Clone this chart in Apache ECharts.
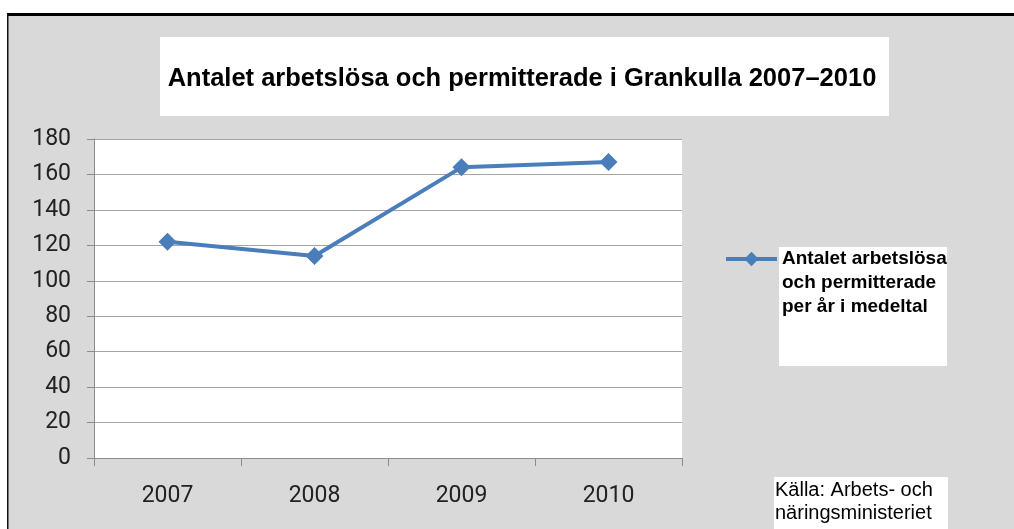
<!DOCTYPE html>
<html>
<head>
<meta charset="utf-8">
<script src="https://cdn.jsdelivr.net/npm/echarts@6/dist/echarts.min.js"></script>
<style>
  html, body { margin: 0; padding: 0; background: #fff; }
  #main { width: 1014px; height: 529px; }
</style>
</head>
<body>
<div id="main"></div>
<script>
// data
var years = ['2007', '2008', '2009', '2010'];
var arbetslosa = [122, 114, 164, 167];
var seriesName = 'Antalet arbetslösa och permitterade per år i medeltal';
var legendLines = ['Antalet arbetslösa', 'och permitterade', 'per år i medeltal'];
var yTicks = { min: 0, max: 180, step: 20 };

var chart = echarts.init(document.getElementById('main'));

var option = {
    animation: false,
    backgroundColor: '#ffffff',
    textStyle: { fontFamily: 'Liberation Sans' },
    graphic: [
        // grey chart area and the frame lines
        { type: 'rect', z: -10, shape: { x: 7, y: 14, width: 1007, height: 515 }, style: { fill: '#d9d9d9' } },
        { type: 'rect', z: -9, shape: { x: 7, y: 13, width: 1007, height: 3 }, style: { fill: '#000' } },
        { type: 'rect', z: -9, shape: { x: 7, y: 13, width: 1.5, height: 516 }, style: { fill: '#111' } },
        // title box
        { type: 'rect', z: -5, shape: { x: 160, y: 37, width: 729, height: 79 }, style: { fill: '#fff' } },
        {
            type: 'text', z: 5, x: 522, y: 79,
            style: {
                text: 'Antalet arbetslösa och permitterade i Grankulla 2007–2010',
                fontFamily: 'Liberation Sans', fontWeight: 'bold', fontSize: 25.5,
                fill: '#000', align: 'center', verticalAlign: 'middle'
            }
        },
        // legend box
        { type: 'rect', z: -5, shape: { x: 779, y: 247, width: 168, height: 119 }, style: { fill: '#fff' } },
        // source box
        { type: 'rect', z: -5, shape: { x: 774, y: 477, width: 174, height: 52 }, style: { fill: '#fff' } },
        {
            type: 'text', z: 5, x: 775, y: 479,
            style: {
                text: 'Källa: Arbets- och\nnäringsministeriet',
                fontFamily: 'Liberation Sans', fontSize: 20, lineHeight: 23,
                fill: '#000', align: 'left', verticalAlign: 'top'
            }
        }
    ],
    grid: {
        left: 94, top: 139, right: 332, bottom: 71,
        show: true, backgroundColor: '#ffffff', borderWidth: 0
    },
    legend: {
        left: 724, top: 199, padding: 0,
        orient: 'vertical',
        selectedMode: false,
        itemWidth: 51, itemHeight: 18,
        data: [seriesName],
        // two blank lines on top so the first text line sits level with the icon
        formatter: function () { return ' \n \n' + legendLines.join('\n'); },
        lineStyle: { width: 4 },
        textStyle: {
            fontFamily: 'Liberation Sans', fontWeight: 'bold', fontSize: 19,
            lineHeight: 24, color: '#000'
        }
    },
    xAxis: {
        type: 'category',
        data: years,
        boundaryGap: true,
        axisLine: { lineStyle: { color: '#8c8c8c', width: 1 } },
        axisTick: { show: true, length: 8, lineStyle: { color: '#8c8c8c' } },
        axisLabel: { margin: 27, fontSize: 23, color: '#222', fontFamily: 'Roboto' }
    },
    yAxis: {
        type: 'value',
        min: yTicks.min, max: yTicks.max, interval: yTicks.step,
        axisLine: { show: true, lineStyle: { color: '#8c8c8c', width: 1 } },
        axisTick: { show: true, length: 7, lineStyle: { color: '#8c8c8c' } },
        axisLabel: { margin: 23, fontSize: 23, color: '#222', fontFamily: 'Roboto' },
        splitLine: { show: true, lineStyle: { color: '#a6a6a6', width: 1 } }
    },
    series: [
        {
            name: seriesName,
            type: 'line',
            data: arbetslosa,
            color: '#4a7ebb',
            symbol: 'diamond',
            symbolSize: 18,
            lineStyle: { width: 4, color: '#4a7ebb' },
            itemStyle: { color: '#4a7ebb' }
        }
    ]
};

chart.setOption(option);
</script>
</body>
</html>
